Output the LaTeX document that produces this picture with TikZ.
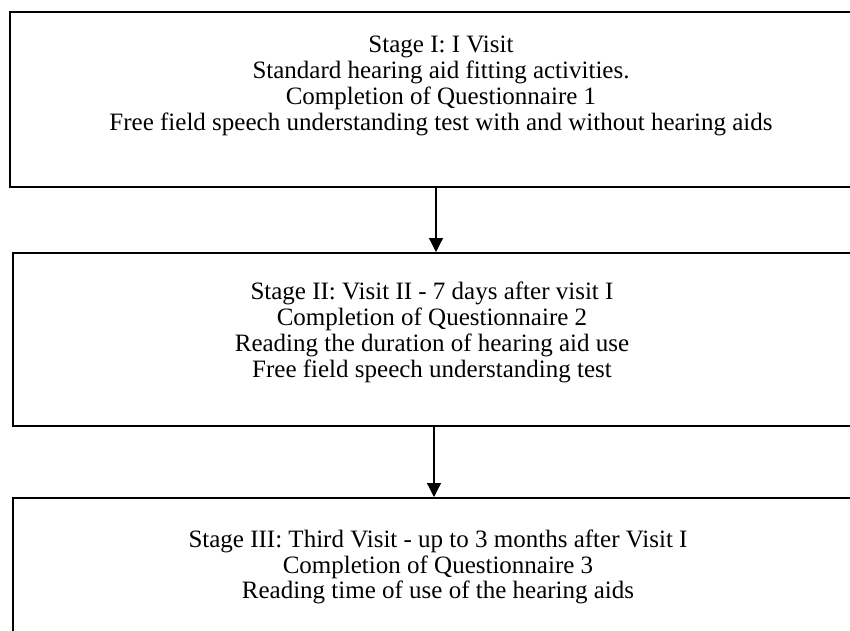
\documentclass[tikz,border=0pt]{standalone}
\usepackage{fontspec}
\setmainfont{Liberation Serif}
\usetikzlibrary{arrows.meta}
\begin{document}
\begin{tikzpicture}[x=1pt, y=1pt,
    stagebox/.style={draw, line width=2pt, minimum width=#1, inner sep=0pt},
    stagetext/.style={align=center, inner sep=0pt, font=\fontsize{25}{25.8}\selectfont},
    flow/.style={-{Triangle[length=14pt, width=14pt]}, line width=1.2pt}]
\useasboundingbox (0,0) rectangle (850,-630);
\clip (0,0) rectangle (850,-630);
% boxes
\node[stagebox=852pt, minimum height=175pt] (stageone) at (436,-99.5) {};
\node[stagebox=842pt, minimum height=173pt] (stagetwo) at (434,-339.5) {};
\node[stagebox=842pt, minimum height=160pt] (stagethree) at (434,-578) {};
% texts
\node[stagetext] (stageonetext) at (441,-86) {Stage I: I Visit\\
    Standard hearing aid fitting activities.\\
    Completion of Questionnaire 1\\
    Free field speech understanding test with and without hearing aids};
\node[stagetext] (stagetwotext) at (432,-332.5) {Stage II: Visit II - 7 days after visit I\\
    Completion of Questionnaire 2\\
    Reading the duration of hearing aid use\\
    Free field speech understanding test};
\node[stagetext] (stagethreetext) at (438,-567) {Stage III: Third Visit - up to 3 months after Visit I\\
    Completion of Questionnaire 3\\
    Reading time of use of the hearing aids};
% arrows
\draw[flow] (stageone.south) -- (stageone.south |- stagetwo.north);
\draw[flow] (stagetwo.south) -- (stagethree.north);
\end{tikzpicture}
\end{document}
